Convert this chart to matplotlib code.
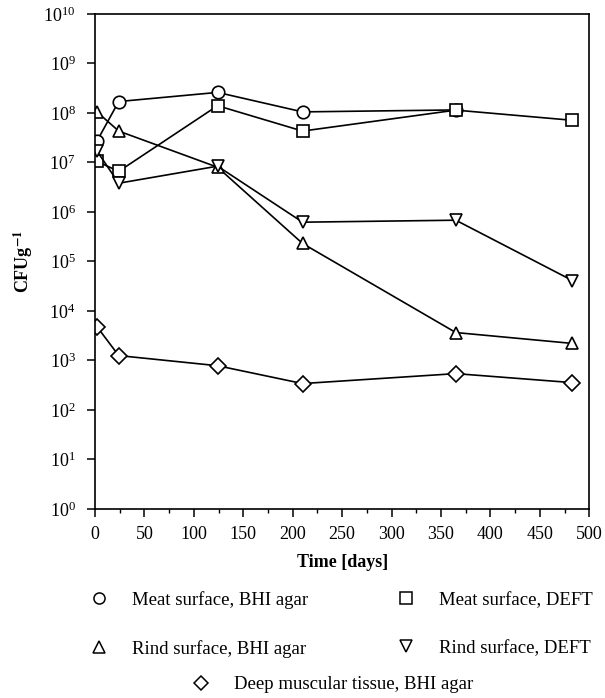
import numpy as np
import matplotlib
matplotlib.use('Agg')
from matplotlib import pyplot as plt
from matplotlib.lines import Line2D
from matplotlib.ticker import LogLocator, LogFormatterMathtext, MultipleLocator, NullLocator

plt.rcParams['font.family'] = ['Liberation Serif', 'DejaVu Serif']
plt.rcParams['mathtext.fontset'] = 'stix'

# sampling days and counts (CFU per g)
days_meat_bhi = [2, 24, 124, 210, 365]
meat_bhi = [2.7e7, 1.7e8, 2.6e8, 1.05e8, 1.15e8]

days = [2, 24, 124, 210, 365, 483]
meat_deft = [1.05e7, 6.6e6, 1.4e8, 4.3e7, 1.14e8, 7.1e7]
rind_bhi = [1.05e8, 4.3e7, 8.0e6, 2.3e5, 3.65e3, 2.2e3]
rind_deft = [1.7e7, 3.8e6, 8.4e6, 6.2e5, 6.8e5, 4.1e4]
deep_bhi = [4.8e3, 1.25e3, 7.8e2, 3.4e2, 5.4e2, 3.55e2]

labels = ['Meat surface, BHI agar', 'Meat surface, DEFT',
          'Rind surface, BHI agar', 'Rind surface, DEFT',
          'Deep muscular tissue, BHI agar']

fig = plt.figure(figsize=(6.05, 6.98), dpi=100)
ax = fig.add_axes([0.157, 0.271, 0.817, 0.709])

style = dict(color='black', lw=1.2, mfc='white', mec='black', mew=1.2)
l1, = ax.plot(days_meat_bhi, meat_bhi, marker='o', ms=9, label=labels[0], **style)
l2, = ax.plot(days, meat_deft, marker='s', ms=8, label=labels[1], **style)
l3, = ax.plot(days, rind_bhi, marker='^', ms=9, label=labels[2], **style)
l4, = ax.plot(days, rind_deft, marker='v', ms=9, label=labels[3], **style)
l5, = ax.plot(days, deep_bhi, marker='D', ms=8, label=labels[4], **style)

ax.set_yscale('log')
ax.set_ylim(1, 1e10)
ax.set_xlim(0, 500)
ax.yaxis.set_major_locator(LogLocator(base=10, numticks=12))
ax.yaxis.set_major_formatter(LogFormatterMathtext())
ax.yaxis.set_minor_locator(NullLocator())
ax.xaxis.set_major_locator(MultipleLocator(50))
ax.xaxis.set_minor_locator(MultipleLocator(25))

ax.tick_params(axis='both', which='major', direction='out', length=6, width=1.1,
               labelsize=13)
ax.tick_params(axis='y', pad=8)
ax.tick_params(axis='x', pad=6)
ax.tick_params(axis='x', which='minor', direction='out', length=3, width=1.0)
for s in ax.spines.values():
    s.set_linewidth(1.2)

ax.set_xlabel('Time [days]', fontsize=13, fontweight='bold', labelpad=8)
ax.set_ylabel(r'CFUg$^{\mathbf{-1}}$', fontsize=13, fontweight='bold', labelpad=6)

def legend_handle(line, ms):
    return Line2D([], [], ls='none', marker=line.get_marker(), ms=ms,
                  mfc='white', mec='black', mew=1.1, label=line.get_label())

leg_kw = dict(frameon=False, fontsize=13.5, handlelength=1.0, handletextpad=1.25,
              borderaxespad=0, borderpad=0)
# ncol fills column by column, so order the handles for rows
fig.legend(handles=[legend_handle(l, 8) for l in (l1, l3, l2, l4)],
           ncol=2, columnspacing=4.7, labelspacing=1.65,
           loc='upper left', bbox_to_anchor=(90 / 605, 1 - 591 / 698), **leg_kw)
fig.legend(handles=[legend_handle(l5, 7)],
           loc='upper left', bbox_to_anchor=(192 / 605, 1 - 676 / 698), **leg_kw)

fig.savefig('out.png', dpi=100)
